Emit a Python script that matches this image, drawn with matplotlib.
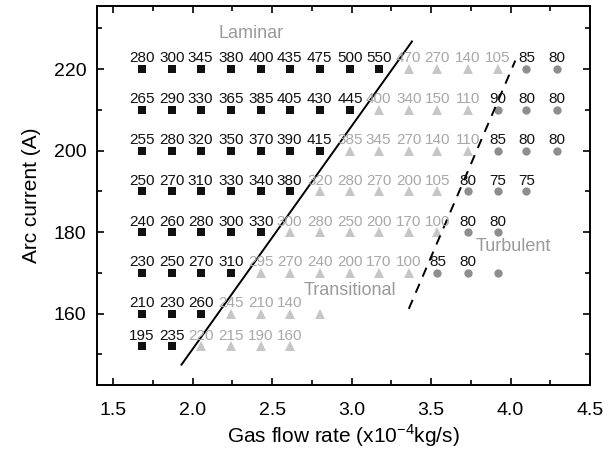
import numpy as np
import matplotlib
matplotlib.use("Agg")
import matplotlib.pyplot as plt
from matplotlib.ticker import MultipleLocator

plt.rcParams['font.family'] = ['Liberation Sans', 'DejaVu Sans']

# gas flow rate columns (x10^-4 kg/s) and arc current rows (A)
flow = [1.68, 1.87, 2.05, 2.24, 2.43, 2.61, 2.80, 2.99, 3.17, 3.36, 3.54, 3.73, 3.92, 4.10, 4.29]
currents = [220, 210, 200, 190, 180, 170, 160, 152]

# numbers written next to each point, per row
laminar = [
    [280, 300, 345, 380, 400, 435, 475, 500, 550],
    [265, 290, 330, 365, 385, 405, 430, 445],
    [255, 280, 320, 350, 370, 390, 415],
    [250, 270, 310, 330, 340, 380],
    [240, 260, 280, 300, 330],
    [230, 250, 270, 310],
    [210, 230, 260],
    [195, 235],
]
transitional = [
    [470, 270, 140, 105],
    [400, 340, 150, 110],
    [385, 345, 270, 140, 110],
    [320, 280, 270, 200, 105],
    [300, 280, 250, 200, 170, 100],
    [295, 270, 240, 200, 170, 100],
    [245, 210, 140, None],
    [220, 215, 190, 160],
]
turbulent = [
    [85, 80],
    [90, 80, 80],
    [85, 80, 80],
    [80, 75, 75],
    [80, 80],
    [85, 80, None],
    [],
    [],
]

# boundary lines
lam_line_x = [1.93, 3.38]
lam_line_y = [147.5, 226.8]
turb_line_x = [3.36, 4.03]
turb_line_y = [161.2, 222.1]

fig = plt.figure(figsize=(6.08, 4.5), dpi=100)
ax = fig.add_axes([0.16, 0.1444, 0.8104, 0.8423])

styles = [
    (laminar, 's', '#111111', 5.2, '#111111'),
    (transitional, '^', '#c6c6c6', 6.8, '#a8a8a8'),
    (turbulent, 'o', '#8e8e8e', 6.0, '#111111'),
]

for i, y in enumerate(currents):
    start = 0
    for block, mk, col, ms, tcol in styles:
        vals = block[i]
        xs = flow[start:start + len(vals)]
        if xs:
            ax.plot(xs, [y] * len(xs), linestyle='none', marker=mk, color=col,
                    markersize=ms, markeredgewidth=0)
        for x, v in zip(xs, vals):
            if v is None:
                continue
            ax.annotate(str(v), (x, y), xytext=(0, 4.8), textcoords='offset points',
                        ha='center', va='baseline', fontsize=11, color=tcol)
        start += len(vals)

ax.plot(lam_line_x, lam_line_y, color='black', lw=1.4)
ax.plot(turb_line_x, turb_line_y, color='black', lw=1.4, dashes=(5, 4))

ax.text(2.37, 228.7, 'Laminar', color='#9a9a9a', fontsize=13, ha='center', va='center')
ax.text(2.99, 165.8, 'Transitional', color='#9a9a9a', fontsize=13, ha='center', va='center')
ax.text(4.02, 176.4, 'Turbulent', color='#9a9a9a', fontsize=13, ha='center', va='center')

ax.set_xlim(1.4, 4.5)
ax.set_ylim(142.5, 235.5)
ax.xaxis.set_major_locator(MultipleLocator(0.5))
ax.xaxis.set_minor_locator(MultipleLocator(0.25))
ax.yaxis.set_major_locator(MultipleLocator(20))
ax.yaxis.set_minor_locator(MultipleLocator(10))
ax.xaxis.set_major_formatter(plt.FormatStrFormatter('%.1f'))
ax.tick_params(which='both', direction='in', top=True, right=True, width=1.2, labelsize=14)
ax.tick_params(which='major', length=5)
ax.tick_params(which='minor', length=3.5)
ax.tick_params(axis='x', pad=12)
ax.tick_params(axis='y', pad=8)
for s in ax.spines.values():
    s.set_linewidth(1.4)

ax.set_xlabel('Gas flow rate (x10$^{\\mathregular{-4}}$kg/s)', fontsize=15, labelpad=3)
ax.set_ylabel('Arc current (A)', fontsize=15, labelpad=9)

fig.savefig('out.png', dpi=100)
